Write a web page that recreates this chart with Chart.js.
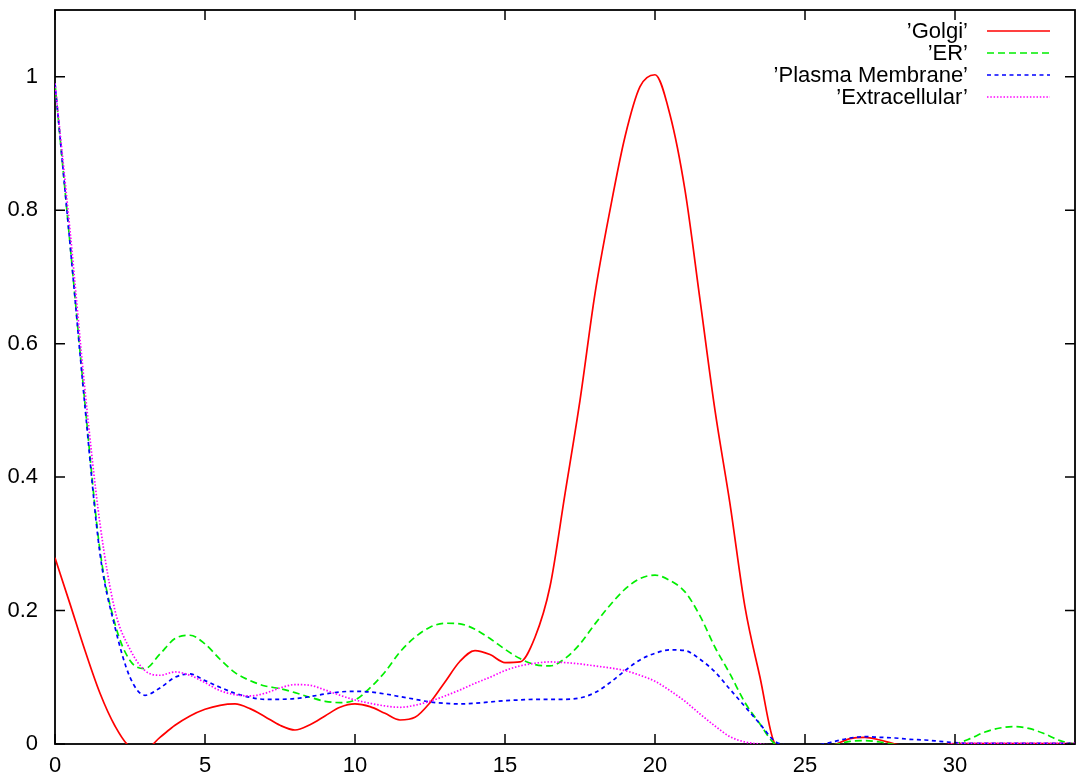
<!DOCTYPE html>
<html>
<head>
<meta charset="utf-8">
<script src="https://cdn.jsdelivr.net/npm/chart.js@4"></script>
<style>
  html, body { margin: 0; padding: 0; background: #fff; }
  #wrap { width: 1076px; height: 779px; }
</style>
</head>
<body>
<div id="wrap"><canvas id="profile" width="1076" height="779"></canvas></div>
<script>
// x positions of the samples
const xValues = [0, 0.5, 1, 1.5, 2, 2.5, 3, 3.5, 4, 4.5, 5, 5.5, 6, 6.5, 7, 7.5, 8, 8.5, 9, 9.5,
    10, 10.5, 11, 11.5, 12, 12.5, 13, 13.5, 14, 14.5, 15, 15.5, 16, 16.5, 17, 17.5, 18, 18.5, 19, 19.5,
    20, 20.5, 21, 21.5, 22, 22.5, 23, 23.5, 24, 24.5, 25, 25.5, 26, 26.5, 27, 27.5, 28, 28.5, 29, 29.5,
    30, 30.5, 31, 31.5, 32, 32.5, 33, 33.5, 34];

const golgi = [0.279, 0.210, 0.140, 0.076, 0.027, -0.004, -0.008, 0.010, 0.028, 0.042, 0.052, 0.058, 0.060, 0.053, 0.041, 0.028, 0.021, 0.029, 0.042, 0.055,
    0.060, 0.056, 0.046, 0.036, 0.040, 0.062, 0.093, 0.124, 0.140, 0.134, 0.122, 0.123, 0.160, 0.236, 0.375, 0.515, 0.675, 0.800, 0.910, 0.985,
    1.003, 0.943, 0.830, 0.666, 0.500, 0.360, 0.205, 0.100, 0.0, -0.010, -0.010, -0.008, -0.001, 0.008, 0.010, 0.006, 0.0, -0.003, -0.003, -0.002,
    0.0005, 0.0005, 0.0005, 0.0005, 0.0005, 0.0005, 0.0005, 0.0005, 0.0005];

const er = [0.990, 0.750, 0.510, 0.290, 0.180, 0.125, 0.113, 0.135, 0.158, 0.163, 0.150, 0.127, 0.107, 0.095, 0.087, 0.083, 0.077, 0.070, 0.064, 0.062,
    0.066, 0.084, 0.108, 0.138, 0.160, 0.175, 0.181, 0.180, 0.172, 0.158, 0.142, 0.128, 0.119, 0.117, 0.128, 0.150, 0.180, 0.208, 0.232, 0.248,
    0.253, 0.245, 0.228, 0.192, 0.145, 0.105, 0.062, 0.030, 0.0, -0.005, -0.005, -0.004, -0.001, 0.004, 0.005, 0.003, -0.001, -0.003, -0.003, -0.002,
    0.0, 0.008, 0.018, 0.024, 0.026, 0.023, 0.015, 0.005, 0.0];

const plasmaMembrane = [0.990, 0.750, 0.505, 0.285, 0.175, 0.100, 0.073, 0.084, 0.100, 0.105, 0.095, 0.085, 0.076, 0.070, 0.067, 0.067, 0.068, 0.071, 0.075, 0.078,
    0.079, 0.078, 0.075, 0.071, 0.067, 0.063, 0.061, 0.060, 0.061, 0.063, 0.065, 0.066, 0.067, 0.067, 0.067, 0.069, 0.077, 0.092, 0.110, 0.126,
    0.136, 0.141, 0.140, 0.127, 0.108, 0.082, 0.056, 0.030, 0.004, -0.002, -0.003, -0.001, 0.004, 0.009, 0.011, 0.010, 0.009, 0.007, 0.006, 0.004,
    0.002, 0.001, 0.001, 0.001, 0.001, 0.001, 0.001, 0.001, 0.001];

const extracellular = [0.990, 0.770, 0.530, 0.330, 0.200, 0.142, 0.110, 0.103, 0.108, 0.103, 0.092, 0.080, 0.074, 0.072, 0.076, 0.084, 0.089, 0.088, 0.081, 0.073,
    0.066, 0.061, 0.057, 0.055, 0.058, 0.064, 0.072, 0.081, 0.091, 0.100, 0.110, 0.117, 0.121, 0.123, 0.122, 0.120, 0.117, 0.114, 0.110, 0.103,
    0.094, 0.080, 0.064, 0.045, 0.027, 0.011, 0.003, 0.0, -0.002, -0.003, -0.003, -0.003, -0.003, -0.003, -0.003, -0.003, -0.003, -0.003, -0.003, -0.003,
    0.001, 0.001, 0.001, 0.001, 0.001, 0.001, 0.001, 0.001, 0.001];

const seriesNames = ['\u2019Golgi\u2019', '\u2019ER\u2019', '\u2019Plasma Membrane\u2019', '\u2019Extracellular\u2019'];
const xTicks = [0, 5, 10, 15, 20, 25, 30];
const yTicks = [0, 0.2, 0.4, 0.6, 0.8, 1];

const FONT = '"Liberation Sans", Arial, Helvetica, sans-serif';

function toPoints(ys) {
    return xValues.map((x, i) => ({ x: x, y: ys[i] }));
}

const styles = [
    { color: '#ff0000', dash: [] },
    { color: '#00ee00', dash: [7, 4] },
    { color: '#0000ff', dash: [4, 3.5] },
    { color: '#ff00ff', dash: [1.5, 1.8] }
];

const allSeries = [golgi, er, plasmaMembrane, extracellular];

const datasets = allSeries.map((ys, i) => ({
    label: seriesNames[i],
    data: toPoints(ys),
    borderColor: styles[i].color,
    borderDash: styles[i].dash,
    borderWidth: 1.7,
    pointRadius: 0,
    fill: false,
    cubicInterpolationMode: 'monotone',
    clip: 0,
    order: 4 - i
}));

// frame, inward mirror ticks and gnuplot style key
const gnuplotLook = {
    id: 'gnuplotLook',
    beforeDatasetsDraw(chart) {
        const a = chart.chartArea;
        const ctx = chart.ctx;
        ctx.save();
        ctx.strokeStyle = '#000';
        ctx.lineWidth = 1.8;
        ctx.strokeRect(a.left, a.top, a.right - a.left, a.bottom - a.top);
        ctx.restore();
    },
    afterDraw(chart) {
        const a = chart.chartArea;
        const ctx = chart.ctx;
        const xs = chart.scales.x, ys = chart.scales.y;
        const len = 10;
        ctx.save();
        ctx.strokeStyle = '#000';
        ctx.lineWidth = 1.5;
        ctx.beginPath();
        xTicks.forEach(v => {
            const px = xs.getPixelForValue(v);
            ctx.moveTo(px, a.bottom); ctx.lineTo(px, a.bottom - len);
            ctx.moveTo(px, a.top); ctx.lineTo(px, a.top + len);
        });
        yTicks.forEach(v => {
            const py = ys.getPixelForValue(v);
            ctx.moveTo(a.left, py); ctx.lineTo(a.left + len, py);
            ctx.moveTo(a.right, py); ctx.lineTo(a.right - len, py);
        });
        ctx.stroke();

        // key, top right
        ctx.font = '22px ' + FONT;
        ctx.textAlign = 'right';
        ctx.textBaseline = 'middle';
        chart.data.datasets.forEach((ds, i) => {
            const y = a.top + 21 + i * 22;
            ctx.fillStyle = '#000';
            ctx.fillText(ds.label, a.right - 107, y + 1);
            ctx.strokeStyle = ds.borderColor;
            ctx.lineWidth = 1.7;
            ctx.setLineDash(ds.borderDash);
            ctx.beginPath();
            ctx.moveTo(a.right - 88, y);
            ctx.lineTo(a.right - 25, y);
            ctx.stroke();
            ctx.setLineDash([]);
        });
        ctx.restore();
    }
};

new Chart(document.getElementById('profile').getContext('2d'), {
    type: 'line',
    data: { datasets: datasets },
    options: {
        responsive: false,
        animation: false,
        devicePixelRatio: 1,
        events: [],
        layout: { padding: { top: 10, right: 1, left: 0, bottom: 0 } },
        plugins: {
            legend: { display: false },
            tooltip: { enabled: false }
        },
        scales: {
            x: {
                type: 'linear',
                min: 0,
                max: 34,
                grid: { display: false, drawTicks: false },
                border: { display: false },
                afterBuildTicks: (scale) => { scale.ticks = xTicks.map(v => ({ value: v })); },
                afterFit: (scale) => {
                    scale.height = 35;
                    scale.paddingLeft = 0;
                    scale.paddingRight = 0;
                },
                ticks: {
                    color: '#000',
                    padding: 9,
                    maxRotation: 0,
                    font: { family: FONT, size: 22 },
                    callback: (v) => String(v)
                }
            },
            y: {
                type: 'linear',
                min: 0,
                max: 1.1,
                grid: { display: false, drawTicks: false },
                border: { display: false },
                afterBuildTicks: (scale) => { scale.ticks = yTicks.map(v => ({ value: v })); },
                afterFit: (scale) => {
                    scale.width = 55;
                    scale.paddingTop = 0;
                    scale.paddingBottom = 0;
                },
                ticks: {
                    color: '#000',
                    padding: 17,
                    font: { family: FONT, size: 22 },
                    callback: (v) => String(Math.round(v * 10) / 10)
                }
            }
        }
    },
    plugins: [gnuplotLook]
});
</script>
</body>
</html>
